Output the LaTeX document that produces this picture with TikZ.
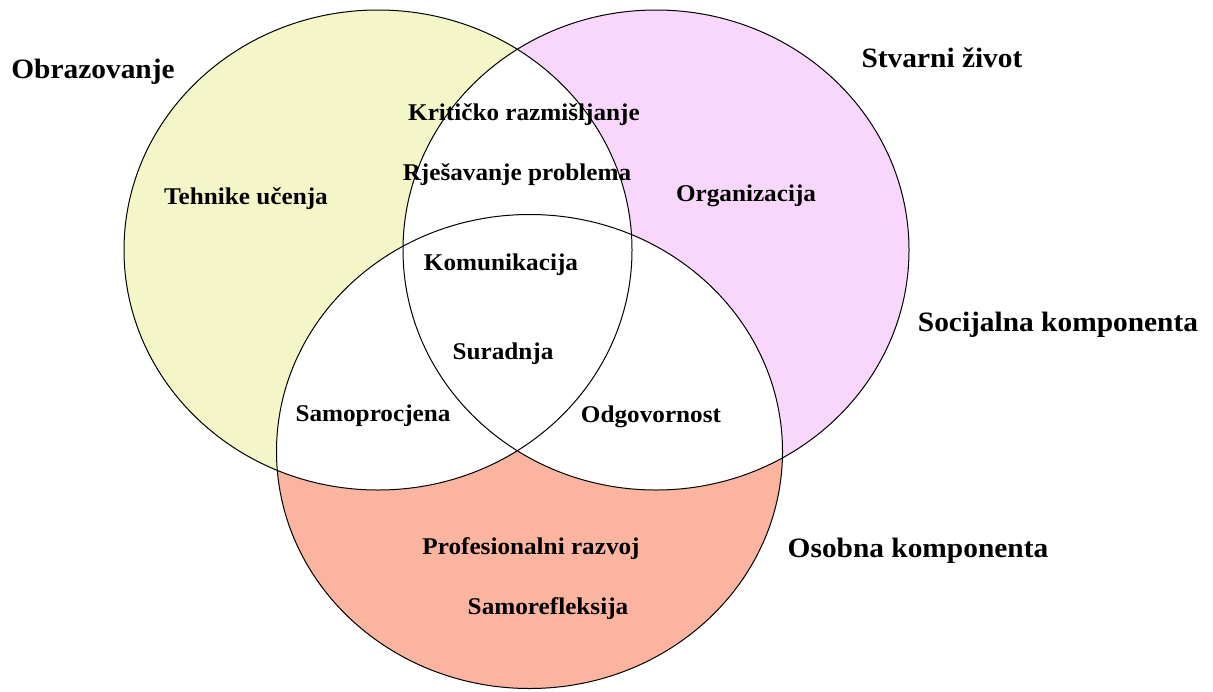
\documentclass[tikz,border=0pt]{standalone}
\usepackage{fontspec}
\setmainfont{Liberation Serif}[FakeStretch=1.05]
\definecolor{cyel}{RGB}{245,246,200}
\definecolor{cpink}{RGB}{249,214,252}
\definecolor{csal}{RGB}{250,180,160}
\begin{document}
\begin{tikzpicture}[x=1pt,y=-1pt,
  outerlab/.style={font=\bfseries\fontsize{28}{31}\selectfont, inner sep=0pt},
  innerlab/.style={font=\bfseries\fontsize{24}{27}\selectfont, inner sep=0pt},
  ring/.style={draw=black, line width=1pt}]
\useasboundingbox (0,0) rectangle (1213,691);
\def\Lpath{(378,250) ellipse [x radius=254pt, y radius=240pt]}
\def\Rpath{(656,250) ellipse [x radius=253pt, y radius=240pt]}
\def\Bpath{(529.5,451.5) ellipse [x radius=253pt, y radius=237pt]}
% fills
\fill[cyel] \Lpath;
\fill[cpink] \Rpath;
\fill[csal] \Bpath;
\begin{scope}
  \clip \Lpath;
  \fill[white] \Rpath;
  \fill[white] \Bpath;
\end{scope}
\begin{scope}
  \clip \Rpath;
  \fill[white] \Bpath;
\end{scope}
% outlines
\draw[ring] \Lpath;
\draw[ring] \Rpath;
\draw[ring] \Bpath;
% outer labels
\node[outerlab] (obr) at (93,72) {Obrazovanje};
\node[outerlab] (stv) at (942,58) {Stvarni život};
\node[outerlab] (soc) at (1058,325) {Socijalna komponenta};
\node[outerlab] (oso) at (918,551) {Osobna komponenta};
% inner labels
\node[innerlab] (krit) at (524,115) {Kritičko razmišljanje};
\node[innerlab] (rjes) at (517,175) {Rješavanje problema};
\node[innerlab] (teh) at (246,199) {Tehnike učenja};
\node[innerlab] (org) at (746,196) {Organizacija};
\node[innerlab] (kom) at (501,265) {Komunikacija};
\node[innerlab] (sur) at (503,354) {Suradnja};
\node[innerlab] (samp) at (373,416) {Samoprocjena};
\node[innerlab] (odg) at (651,417) {Odgovornost};
\node[innerlab] (prof) at (531,549) {Profesionalni razvoj};
\node[innerlab] (samr) at (548,609) {Samorefleksija};
\end{tikzpicture}
\end{document}
